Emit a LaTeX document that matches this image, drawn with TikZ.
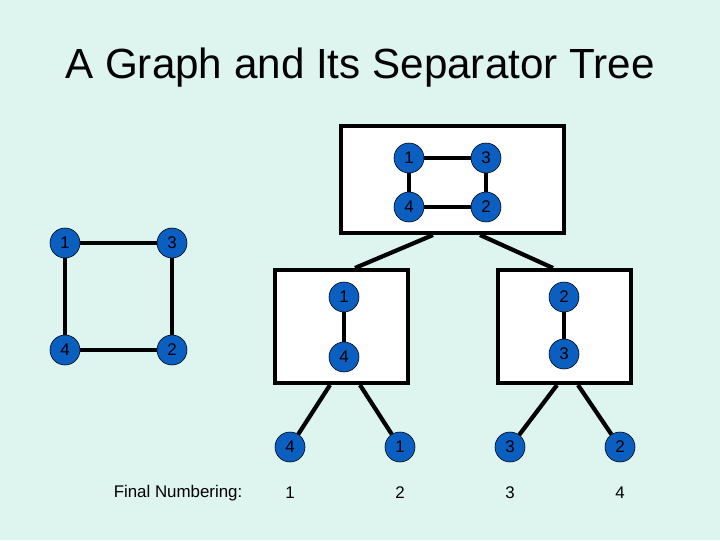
\documentclass[tikz,border=0pt]{standalone}
\usepackage{fontspec}
\setmainfont{Liberation Sans}
\definecolor{bgcol}{HTML}{DDF4EF}
\definecolor{vblue}{HTML}{0B5FC0}
\tikzset{
  vert/.style={circle,fill=vblue,draw=black,thin,minimum size=0.75cm,inner sep=0pt,font=\fontsize{12}{12}\selectfont},
  sepbox/.style={draw=black,line width=3pt,fill=white},
  edge/.style={line width=2.4pt},
  tree/.style={line width=3pt}
}
\begin{document}
\begin{tikzpicture}[x=0.025cm,y=-0.025cm]
        \fill[bgcol] (0,0) rectangle (720,540);
        \node at (360,68) {\fontsize{30}{30}\selectfont A Graph and Its Separator Tree};
        % the graph
        \begin{scope}
            \node[vert] (g1) at (65,243) {1};
            \node[vert] (g3) at (172,243) {3};
            \node[vert] (g4) at (65,350) {4};
            \node[vert] (g2) at (172,350) {2};
            \draw[edge] (g1) -- (g3);
            \draw[edge] (g3) -- (g2);
            \draw[edge] (g2) -- (g4);
            \draw[edge] (g4) -- (g1);
        \end{scope}
        % separator tree
        \draw[sepbox] (341,126) rectangle (564,233);
        \draw[sepbox] (275,270) rectangle (408,383);
        \draw[sepbox] (498,270) rectangle (631,383);
        \coordinate (rl) at (433,235);
        \coordinate (rr) at (480,235);
        \coordinate (al) at (355,268);
        \coordinate (ar) at (553,268);
        \draw[tree] (rl) -- (al);
        \draw[tree] (rr) -- (ar);
        \begin{scope}
            \node[vert] (t1) at (409,158) {1};
            \node[vert] (t3) at (486,158) {3};
            \node[vert] (t4) at (409,207) {4};
            \node[vert] (t2) at (486,207) {2};
            \draw[edge] (t1) -- (t3);
            \draw[edge] (t3) -- (t2);
            \draw[edge] (t2) -- (t4);
            \draw[edge] (t4) -- (t1);
        \end{scope}
        \begin{scope}
            \node[vert] (l1) at (344,297) {1};
            \node[vert] (l4) at (344,357) {4};
            \draw[edge] (l1) -- (l4);
            \node[vert] (r2) at (564,297) {2};
            \node[vert] (r3) at (564,354) {3};
            \draw[edge] (r2) -- (r3);
        \end{scope}
        % leaves
        \node[vert] (f4) at (290,447) {4};
        \node[vert] (f1) at (400,447) {1};
        \node[vert] (f3) at (510,447) {3};
        \node[vert] (f2) at (620,447) {2};
        \coordinate (lb1) at (330,385);
        \coordinate (lb2) at (360,385);
        \coordinate (rb1) at (557,385);
        \coordinate (rb2) at (578,385);
        \draw[tree] (lb1) -- (f4);
        \draw[tree] (lb2) -- (f1);
        \draw[tree] (rb1) -- (f3);
        \draw[tree] (rb2) -- (f2);
        % numbering
        \begin{scope}[every node/.style={font=\fontsize{12}{12}\selectfont}]
            \node (fn) at (178,493) {Final Numbering:};
            \node (n1) at (290,493) {1};
            \node (n2) at (400,493) {2};
            \node (n3) at (510,493) {3};
            \node (n4) at (620,493) {4};
        \end{scope}
    \end{tikzpicture}
\end{document}
